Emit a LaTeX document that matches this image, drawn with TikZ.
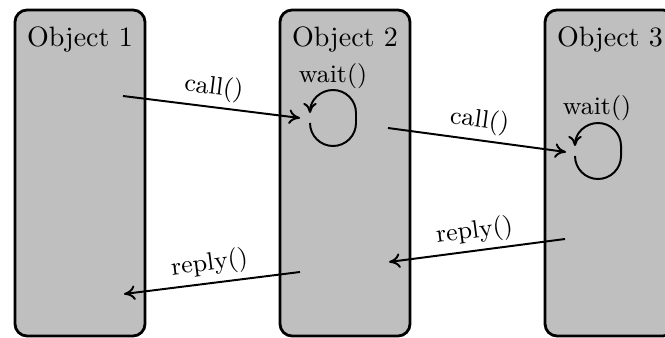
\documentclass[tikz,border=0pt]{standalone}
\usetikzlibrary{arrows.meta}
\begin{document}
\begin{tikzpicture}[x=0.357pt,y=-0.357pt,
  objbox/.style={draw=black, fill=black!25, line width=1pt, rounded corners=4.3pt},
  title/.style={anchor=base, inner sep=0pt},
  msg/.style={-{To[length=4pt, width=5.2pt]}, line width=0.7pt},
  lbl/.style={font=\small, midway, above, sloped, inner sep=2pt},
  waitlbl/.style={font=\small, anchor=base, inner sep=0pt},
  loopline/.style={-{To[length=3.6pt, width=4.8pt]}, line width=0.7pt}]
\useasboundingbox (0,0) rectangle (665,338);
\clip (0,0) rectangle (665,338);
% object lifelines
\draw[objbox] (15,10) rectangle (145,336);
\draw[objbox] (280,10) rectangle (410,336);
\draw[objbox] (545,10) rectangle (675,336);
\node[title] (t1) at (80,47) {Object 1};
\node[title] (t2) at (345,47) {Object 2};
\node[title] (t3) at (610,47) {Object 3};
% wait labels
\node[waitlbl] (w2) at (333,83) {wait()};
\node[waitlbl] (w3) at (597,115) {wait()};
% message endpoints
\coordinate (a1s) at (123,96);
\coordinate (a1e) at (300,118);
\coordinate (a2s) at (388,128);
\coordinate (a2e) at (566,152);
\coordinate (a3s) at (565,239);
\coordinate (a3e) at (389,262);
\coordinate (a4s) at (300,272);
\coordinate (a4e) at (124,294);
\draw[msg] (a1s) -- (a1e) node[lbl] {call()};
\draw[msg] (a2s) -- (a2e) node[lbl] {call()};
\draw[msg] (a3s) -- (a3e) node[lbl] {reply()};
\draw[msg] (a4s) -- (a4e) node[lbl] {reply()};
% wait loops
\draw[loopline] (310,123) arc[start angle=180, end angle=0, radius=23] -- (356,113) arc[start angle=0, end angle=-180, radius=23];
\draw[loopline] (575,156) arc[start angle=180, end angle=0, radius=23] -- (621,146) arc[start angle=0, end angle=-180, radius=23];
\end{tikzpicture}
\end{document}
